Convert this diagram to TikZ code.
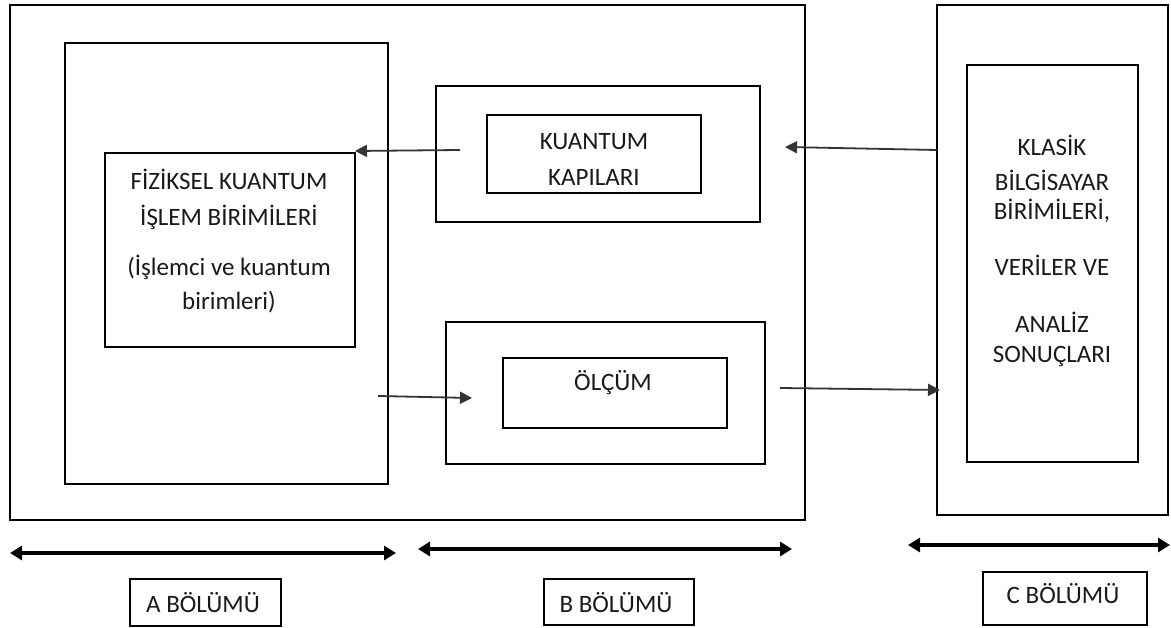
\documentclass[tikz,border=0pt]{standalone}
\usepackage{fontspec}
\setmainfont{Carlito}
\usetikzlibrary{arrows.meta}
\begin{document}
\begin{tikzpicture}[x=1pt,y=-1pt,
  box/.style={draw=black,line width=1.8pt,inner sep=0pt},
  txt/.style={font=\fontsize{25}{28}\selectfont,text=black!90,inner sep=0pt,anchor=base},
  conn/.style={line width=1.8pt,draw=black!80,-{Triangle[length=12pt,width=12pt]}},
  span/.style={line width=3.5pt,{Triangle[length=12pt,width=14pt]}-{Triangle[length=12pt,width=14pt]}}]
\useasboundingbox (0,0) rectangle (1171,628);
% boxes
\draw[box] (10,5) rectangle (805,520);
\draw[box] (65,43) rectangle (388,484);
\draw[box] (105,153) rectangle (355,347);
\draw[box] (436,86) rectangle (760,222);
\draw[box] (487,115) rectangle (701,193);
\draw[box] (446,322) rectangle (765,464);
\draw[box] (503,358) rectangle (727,428);
\draw[box] (937,5) rectangle (1168,515);
\draw[box] (967,65) rectangle (1138,462);
\draw[box] (130,579) rectangle (281,626);
\draw[box] (544,579) rectangle (694,625);
\draw[box] (983,572) rectangle (1147,625);
% texts
\node[txt] (f1) at (229,190) {FİZİKSEL KUANTUM};
\node[txt] (f2) at (229,226) {İŞLEM BİRİMİLERİ};
\node[txt] (f3) at (229,276) {(İşlemci ve kuantum};
\node[txt] (f4) at (229,310) {birimleri)};
\node[txt] (k1) at (594,150) {KUANTUM};
\node[txt] (k2) at (594,186) {KAPILARI};
\node[txt] (o1) at (613,391) {ÖLÇÜM};
\node[txt] (c1) at (1052,156) {KLASİK};
\node[txt] (c2) at (1052,191) {BİLGİSAYAR};
\node[txt] (c3) at (1052,220) {BİRİMİLERİ,};
\node[txt] (c4) at (1052,276) {VERİLER VE};
\node[txt] (c5) at (1052,333) {ANALİZ};
\node[txt] (c6) at (1052,363) {SONUÇLARI};
\node[txt] (la) at (203,612) {A BÖLÜMÜ};
\node[txt] (lb) at (616,612) {B BÖLÜMÜ};
\node[txt] (lc) at (1063,603) {C BÖLÜMÜ};
% connectors
\coordinate (a1s) at (460,150); \coordinate (a1e) at (355,151);
\coordinate (a2s) at (378,396); \coordinate (a2e) at (472,398);
\coordinate (a3s) at (780,388); \coordinate (a3e) at (940,390);
\coordinate (a4s) at (937,150); \coordinate (a4e) at (785,147);
\draw[conn] (a1s) -- (a1e);
\draw[conn] (a2s) -- (a2e);
\draw[conn] (a3s) -- (a3e);
\draw[conn] (a4s) -- (a4e);
\coordinate (sa1) at (10,553); \coordinate (sa2) at (396,553);
\coordinate (sb1) at (418,549); \coordinate (sb2) at (792,549);
\coordinate (sc1) at (908,545); \coordinate (sc2) at (1170,545);
\draw[span] (sa1) -- (sa2);
\draw[span] (sb1) -- (sb2);
\draw[span] (sc1) -- (sc2);
\end{tikzpicture}
\end{document}
